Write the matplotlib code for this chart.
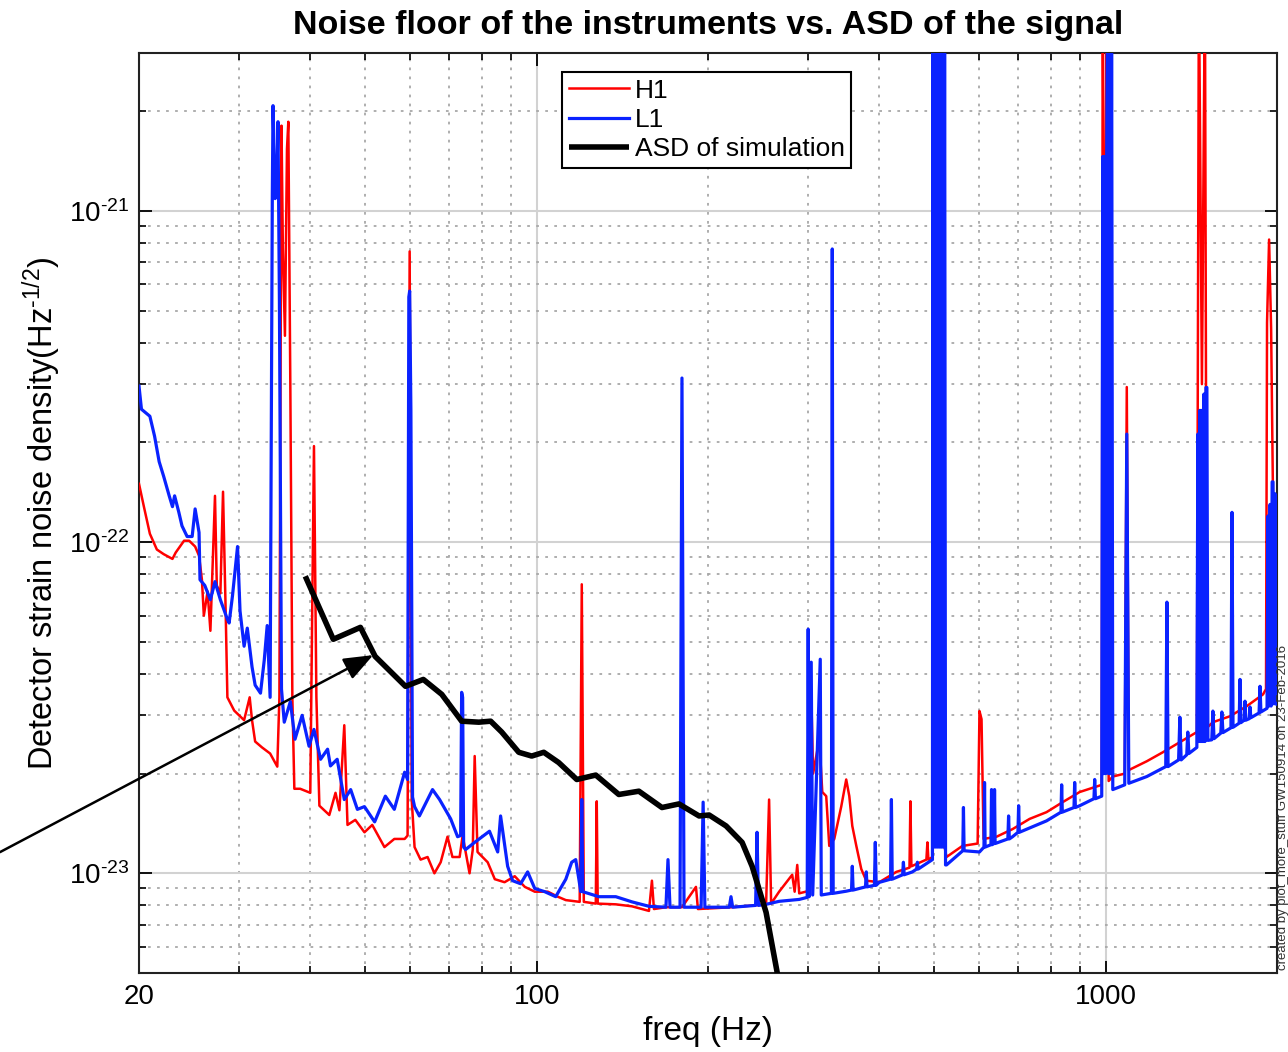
import matplotlib
matplotlib.use('Agg')
import matplotlib.pyplot as plt
from matplotlib.ticker import FixedLocator, NullFormatter, FixedFormatter
from matplotlib.patches import ConnectionPatch

# ---------------- data ----------------
h1_freq = [20.0, 20.4, 20.9, 21.5, 22.1, 22.9, 23.2, 24.0, 24.5, 25.1, 25.5, 25.8, 26.0, 26.4, 26.7,
           27.2, 27.4, 27.8, 28.1, 28.4, 28.6, 29.4, 30.6, 31.3, 31.6, 32.0, 32.9, 34.0, 35.0,
           35.3, 35.6, 35.8, 36.1, 36.4, 36.6, 36.9, 37.2, 37.5, 38.4, 40.0, 40.6, 41.0, 41.5,
           43.2, 44.3, 45.0, 45.9, 46.5, 48.0, 49.8, 51.4, 54.0, 56.2, 58.6, 59.3, 59.8, 60.3,
           61.0, 62.5, 64.3, 66.1, 67.8, 69.7, 71.1, 73.2, 74.1, 76.2, 77.2, 77.8, 78.7, 82.0,
           84.4, 87.8, 91.5, 95.3, 99.2, 104.6, 108.9, 112.5, 119.0, 120.0, 121.0, 127.0, 127.5,
           128.0, 137.7, 147.0, 157.5, 159.4, 160.7, 168.7, 180.0, 190.5, 192.0, 220.4, 253.0,
           256.1, 258.2, 266.7, 281.2, 284.0, 287.0, 289.3, 297.0, 302.0, 303.7, 306.0, 313.8,
           317.6, 322.7, 326.7, 333.4, 342.9, 349.9, 354.3, 358.6, 364.5, 371.9, 379.5, 400.0,
           428.6, 452.0, 453.7, 455.5, 466.7, 484.0, 486.0, 488.0, 496.0, 497.0, 505.0, 512.0,
           521.0, 525.0, 560.0, 595.5, 600.0, 605.0, 610.0, 643.0, 686.0, 735.0, 787.0, 840.0,
           900.0, 964.0, 984.0, 988.0, 996.0, 1004.0, 1012.0, 1029.0, 1080.0, 1089.0, 1098.0,
           1181.0, 1260.0, 1350.0, 1446.0, 1458.0, 1476.0, 1494.0, 1506.0, 1543.0, 1653.0,
           1771.0, 1890.0, 1913.0, 1921.0, 1937.0, 1953.0, 1968.0, 1984.0, 2000.0]
h1_asd = [1.50e-22, 1.28e-22, 1.06e-22, 9.5e-23, 9.2e-23, 8.9e-23, 9.3e-23, 1.01e-22, 1.01e-22, 9.7e-23,
          9.1e-23, 7.7e-23, 6.0e-23, 7.1e-23, 5.4e-23,
          1.38e-22, 7.4e-23, 7.0e-23, 1.42e-22, 6.2e-23, 3.4e-23, 3.1e-23, 2.9e-23, 3.4e-23, 2.9e-23,
          2.5e-23, 2.4e-23, 2.3e-23, 2.1e-23,
          3.4e-23, 1.81e-21, 7.7e-22, 4.2e-22, 1.54e-21, 1.86e-21, 2.9e-22, 3.4e-23, 1.8e-23, 1.8e-23,
          1.75e-23, 1.95e-22, 3.4e-23, 1.6e-23,
          1.5e-23, 1.75e-23, 1.55e-23, 2.8e-23, 1.4e-23, 1.45e-23, 1.33e-23, 1.4e-23, 1.2e-23, 1.27e-23,
          1.27e-23, 1.3e-23, 7.55e-22, 1.67e-23,
          1.2e-23, 1.1e-23, 1.12e-23, 1.0e-23, 1.08e-23, 1.29e-23, 1.12e-23, 1.12e-23, 1.3e-23, 1.0e-23,
          1.18e-23, 2.26e-23, 1.16e-23, 1.08e-23,
          9.6e-24, 9.4e-24, 9.8e-24, 9.1e-24, 8.8e-24, 8.8e-24, 8.5e-24, 8.3e-24, 8.2e-24, 7.46e-23,
          8.2e-24, 8.1e-24, 1.65e-23,
          8.1e-24, 8.06e-24, 7.95e-24, 7.7e-24, 9.5e-24, 7.8e-24, 7.9e-24, 7.9e-24, 9.1e-24, 7.8e-24,
          7.9e-24, 8.06e-24,
          1.67e-23, 8.1e-24, 8.8e-24, 9.9e-24, 8.8e-24, 1.06e-23, 8.7e-24, 8.8e-24, 8.9e-24, 3.5e-23,
          2.0e-23, 2.54e-23,
          1.76e-23, 1.71e-23, 1.21e-23, 1.27e-23, 1.59e-23, 1.92e-23, 1.71e-23, 1.39e-23, 1.21e-23,
          1.03e-23, 9.5e-24, 9.4e-24,
          1.01e-23, 1.04e-23, 1.65e-23, 1.05e-23, 1.07e-23, 1.1e-23, 1.24e-23, 1.1e-23, 1.12e-23, 5e-21,
          1e-22, 5e-21,
          1.2e-23, 1.12e-23, 1.21e-23, 1.23e-23, 3.09e-23, 2.92e-23, 1.27e-23, 1.29e-23, 1.36e-23,
          1.46e-23, 1.53e-23, 1.64e-23,
          1.76e-23, 1.83e-23, 1.85e-23, 5e-21, 2e-22, 5e-21, 1.9e-23, 1.96e-23, 2.0e-23, 2.94e-22,
          2.05e-23,
          2.18e-23, 2.32e-23, 2.49e-23, 2.67e-23, 5e-21, 3e-22, 5e-21, 2.75e-23, 2.86e-23, 2.98e-23,
          3.2e-23, 3.47e-23, 3.6e-23, 4.6e-22, 8.2e-22, 4.4e-22, 1.35e-22, 3.6e-23, 3.65e-23]

l1_freq = [20.0, 20.2, 20.9, 21.3, 21.7, 22.1, 22.6, 22.9, 23.1, 23.5, 23.8, 24.3, 24.8, 25.1, 25.5,
           25.6, 26.1, 26.7, 27.2, 27.8, 28.6, 28.8, 29.2, 29.8, 30.1, 30.6, 31.0, 31.6, 32.0,
           32.7, 33.2, 33.6, 34.0, 34.3, 34.4, 34.7, 35.0, 35.1, 35.3, 35.6, 36.0, 36.9, 37.6,
           38.7, 39.8, 40.6, 41.7, 42.9, 43.4, 44.6, 45.9, 47.1, 48.4, 49.8, 51.9, 54.2, 56.2,
           58.6, 59.3, 59.6, 59.8, 60.1, 60.5, 61.0, 62.2, 65.6, 67.5, 70.6, 72.6, 73.5, 73.8,
           74.1, 74.4, 75.0, 77.8, 82.6, 85.4, 86.4, 88.9, 90.7, 93.7, 96.4, 99.2, 103.3, 108.0,
           112.5, 115.2, 117.1, 118.6, 119.5, 120.0, 120.5, 128.6, 137.7, 147.0, 157.5, 168.7,
           170.1, 171.5, 178.6, 180.0, 181.5, 194.5, 196.1, 197.5, 218.0, 219.5, 221.0, 242.5,
           243.9, 245.3, 253.0, 266.7, 289.3, 298.8, 300.0, 301.2, 303.7, 305.5, 315.0, 316.3,
           329.5, 330.7, 331.9, 349.9, 357.5, 358.6, 359.8, 378.3, 379.5, 380.7, 392.2, 393.6,
           395.0, 400.0, 418.7, 420.1, 421.5, 439.6, 441.0, 442.4, 457.4, 465.2, 466.7, 468.2,
           496.0, 497.0, 499.0, 501.0, 503.0, 505.0, 507.0, 509.0, 511.0, 513.0, 515.0, 517.0,
           519.0, 521.0, 523.0, 525.0, 560.8, 562.3, 563.8, 600.0, 611.0, 612.4, 613.8, 628.5,
           630.0, 631.5, 636.2, 637.7, 639.2, 673.0, 675.0, 677.0, 686.0, 701.0, 703.0, 705.0,
           787.0, 834.5, 836.7, 838.9, 879.5, 882.0, 884.5, 900.0, 953.5, 956.4, 959.3, 984.0,
           988.0, 992.0, 996.0, 1000.0, 1004.0, 1008.0, 1012.0, 1016.0, 1020.0, 1024.0, 1029.0,
           1080.0, 1089.0, 1098.0, 1181.0, 1275.0, 1281.0, 1287.0, 1343.0, 1350.0, 1357.0,
           1388.0, 1394.0, 1400.0, 1446.0, 1452.0, 1458.0, 1464.0, 1470.0, 1476.0, 1482.0,
           1488.0, 1494.0, 1500.0, 1506.0, 1512.0, 1536.0, 1543.0, 1550.0, 1593.0, 1600.0,
           1607.0, 1660.0, 1667.0, 1674.0, 1716.0, 1722.0, 1728.0, 1751.0, 1757.0, 1763.0,
           1787.0, 1793.0, 1799.0, 1860.0, 1867.0, 1874.0, 1921.0, 1929.0, 1937.0, 1945.0,
           1953.0, 1961.0, 1968.0, 1976.0, 1984.0, 2000.0]
l1_asd = [2.96e-22, 2.52e-22, 2.40e-22, 2.09e-22, 1.75e-22, 1.58e-22, 1.38e-22, 1.28e-22, 1.38e-22,
          1.23e-22, 1.12e-22, 1.04e-22, 1.04e-22, 1.26e-22, 1.07e-22,
          7.7e-23, 7.4e-23, 6.7e-23, 7.6e-23, 6.7e-23, 5.85e-23, 5.7e-23, 6.9e-23, 9.7e-23, 6.2e-23,
          4.85e-23, 5.5e-23, 4.2e-23, 3.7e-23,
          3.5e-23, 4.4e-23, 5.6e-23, 3.4e-23, 1.09e-21, 2.08e-21, 1.09e-21, 1.44e-21, 1.86e-21, 5.4e-22,
          3.6e-23, 2.86e-23, 3.3e-23, 2.54e-23,
          3.0e-23, 2.42e-23, 2.72e-23, 2.21e-23, 2.37e-23, 2.11e-23, 2.21e-23, 1.67e-23, 1.79e-23,
          1.56e-23, 1.59e-23, 1.43e-23, 1.71e-23, 1.56e-23,
          2.02e-23, 1.92e-23, 5.5e-22, 5.73e-22, 2.5e-22, 1.7e-23, 1.59e-23, 1.49e-23, 1.79e-23,
          1.67e-23, 1.46e-23, 1.29e-23, 1.3e-23, 3.52e-23,
          3.4e-23, 1.2e-23, 1.18e-23, 1.24e-23, 1.34e-23, 1.16e-23, 1.49e-23, 1.05e-23, 9.5e-24,
          9.3e-24, 1.01e-23, 9.0e-24, 8.8e-24, 8.5e-24,
          9.6e-24, 1.08e-23, 1.10e-23, 9.6e-24, 8.8e-24, 1.67e-23, 8.8e-24, 8.5e-24, 8.5e-24, 8.2e-24,
          7.95e-24, 7.9e-24,
          1.10e-23, 7.9e-24, 7.9e-24, 3.13e-22, 7.9e-24, 7.9e-24, 1.64e-23, 7.9e-24, 7.9e-24, 8.5e-24,
          7.9e-24, 8.0e-24,
          1.33e-23, 8.0e-24, 8.06e-24, 8.23e-24, 8.34e-24, 8.46e-24, 5.46e-23, 8.5e-24, 4.34e-23,
          8.6e-24, 4.43e-23, 8.6e-24,
          8.7e-24, 7.68e-22, 8.7e-24, 8.83e-24, 8.9e-24, 1.05e-23, 8.9e-24, 9.1e-24, 1.01e-23, 9.1e-24,
          9.2e-24, 1.24e-23,
          9.2e-24, 9.39e-24, 9.6e-24, 1.67e-23, 9.6e-24, 9.9e-24, 1.08e-23, 9.9e-24, 1.01e-23,
          1.03e-23, 1.08e-23, 1.03e-23,
          1.10e-23, 5e-21, 1.2e-23, 5e-21, 1.2e-23, 5e-21, 1.2e-23, 5e-21, 1.2e-23, 5e-21, 1.2e-23,
          5e-21, 1.2e-23, 5e-21, 1.06e-23, 1.06e-23, 1.17e-23, 1.58e-23, 1.17e-23, 1.16e-23, 1.2e-23,
          1.88e-23, 1.2e-23, 1.22e-23,
          1.79e-23, 1.22e-23, 1.23e-23, 1.79e-23, 1.23e-23, 1.27e-23, 1.49e-23, 1.27e-23, 1.29e-23,
          1.33e-23, 1.60e-23, 1.33e-23,
          1.44e-23, 1.53e-23, 1.85e-23, 1.53e-23, 1.58e-23, 1.88e-23, 1.58e-23, 1.60e-23, 1.68e-23,
          1.92e-23, 1.68e-23, 1.71e-23,
          1.46e-21, 2e-23, 1.46e-21, 2e-23, 1.46e-21, 5e-21, 2e-23, 5e-21, 2e-23, 5e-21, 1.79e-23,
          1.85e-23, 2.12e-22, 1.87e-23, 1.96e-23, 2.1e-23, 6.59e-23, 2.1e-23, 2.2e-23, 2.96e-23, 2.2e-23,
          2.28e-23, 2.67e-23, 2.3e-23, 2.4e-23, 2.12e-22, 2.5e-23, 2.5e-22, 2.5e-23, 2.5e-22, 2.5e-23,
          2.8e-22, 2.5e-23, 2.93e-22, 2.93e-22, 2.52e-23, 2.53e-23, 3.09e-23, 2.55e-23, 2.65e-23, 3.07e-23,
          2.66e-23, 2.75e-23, 1.23e-22, 2.76e-23, 2.84e-23, 3.85e-23, 2.85e-23, 2.9e-23, 3.31e-23, 2.9e-23,
          2.93e-23, 3.18e-23, 2.95e-23, 3.05e-23, 3.67e-23, 3.07e-23, 3.15e-23, 1.2e-22, 3.2e-23, 1.3e-22,
          3.2e-23, 1.52e-22, 1.52e-22, 3.25e-23, 1.4e-22, 3.24e-23]

sim_freq = [39.2, 43.9, 49.0, 52.0, 58.8, 63.2, 68.1, 73.8, 79.1, 83.0, 86.8, 93.0, 98.0, 102.9,
            109.3, 117.6, 127.0, 139.4, 151.2, 166.0, 177.8, 192.9, 200.9, 215.2, 229.6, 239.1,
            253.0, 264.6, 268.0]
sim_asd = [7.89e-23, 5.09e-23, 5.53e-23, 4.52e-23, 3.67e-23, 3.85e-23, 3.47e-23, 2.88e-23, 2.86e-23,
           2.88e-23, 2.67e-23, 2.32e-23, 2.26e-23, 2.32e-23, 2.16e-23, 1.92e-23, 1.98e-23, 1.73e-23,
           1.77e-23, 1.58e-23, 1.62e-23, 1.49e-23, 1.50e-23, 1.39e-23, 1.24e-23, 1.05e-23, 7.62e-24,
           5.02e-24, 4.4e-24]

series_labels = ['H1', 'L1', 'ASD of simulation']
x_tick_values = [20, 100, 1000]
x_tick_labels = ['20', '100', '1000']
x_minor_values = [30, 40, 50, 60, 70, 80, 90, 200, 300, 400, 500, 600, 700, 800, 900]
y_tick_values = [1e-23, 1e-22, 1e-21]
y_tick_labels = [r'10$^{\text{-23}}$', r'10$^{\text{-22}}$', r'10$^{\text{-21}}$']
y_minor_values = [6e-24, 7e-24, 8e-24, 9e-24,
                  2e-23, 3e-23, 4e-23, 5e-23, 6e-23, 7e-23, 8e-23, 9e-23,
                  2e-22, 3e-22, 4e-22, 5e-22, 6e-22, 7e-22, 8e-22, 9e-22,
                  2e-21]
arrow_tip = (51.6, 4.56e-23)

title_text = 'Noise floor of the instruments vs. ASD of the signal'
xlabel_text = 'freq (Hz)'
ylabel_text = r'Detector strain noise density(Hz$^{\text{-1/2}}$)'
side_text = 'created by plot_more_stuff GW150914 on 23-Feb-2016'

# ---------------- style ----------------
plt.rcParams['font.family'] = ['Liberation Sans', 'DejaVu Sans']
plt.rcParams['mathtext.fontset'] = 'custom'
plt.rcParams['mathtext.rm'] = 'Liberation Sans'
plt.rcParams['mathtext.it'] = 'Liberation Sans:italic'
plt.rcParams['mathtext.bf'] = 'Liberation Sans:bold'
plt.rcParams['mathtext.default'] = 'regular'

fig = plt.figure(figsize=(12.88, 10.52), dpi=100)
ax = fig.add_axes([139 / 1288, 79 / 1052, 1138 / 1288, 920 / 1052])

ax.plot(h1_freq, h1_asd, color='#ff0000', lw=1.8, solid_joinstyle='round', label=series_labels[0], zorder=3)
ax.plot(l1_freq, l1_asd, color='#0a22ff', lw=2.3, solid_joinstyle='round', label=series_labels[1], zorder=4)
ax.plot(sim_freq, sim_asd, color='black', lw=4.0, solid_joinstyle='round', solid_capstyle='butt',
        label=series_labels[2], zorder=5)

ax.set_xscale('log')
ax.set_yscale('log')
ax.set_xlim(20, 2000)
ax.set_ylim(5e-24, 3e-21)

ax.xaxis.set_major_locator(FixedLocator(x_tick_values))
ax.xaxis.set_major_formatter(FixedFormatter(x_tick_labels))
ax.xaxis.set_minor_locator(FixedLocator(x_minor_values))
ax.xaxis.set_minor_formatter(NullFormatter())
ax.yaxis.set_major_locator(FixedLocator(y_tick_values))
ax.yaxis.set_major_formatter(FixedFormatter(y_tick_labels))
ax.yaxis.set_minor_locator(FixedLocator(y_minor_values))
ax.yaxis.set_minor_formatter(NullFormatter())

ax.tick_params(which='both', direction='in', top=True, right=True, colors='black')
ax.tick_params(which='major', length=9, width=1.3, labelsize=20)
ax.tick_params(axis='x', which='major', pad=8)
ax.tick_params(axis='y', which='major', pad=7)
ax.tick_params(which='minor', length=5, width=1.2)

ax.grid(which='major', color='#d2d2d2', lw=1.5, ls='-', zorder=0)
ax.grid(which='minor', color='#a8a8a8', lw=1.3, ls=(0, (1.5, 3.5)), zorder=0)
ax.set_axisbelow(True)
for sp in ax.spines.values():
    sp.set_linewidth(1.5)
    sp.set_color('#222222')

ax.set_title(title_text, fontsize=24.5, fontweight='bold', pad=14)
ax.set_xlabel(xlabel_text, fontsize=24, labelpad=4)
ax.set_ylabel(ylabel_text, fontsize=23.5, labelpad=4)

leg = ax.legend(loc='upper left', bbox_to_anchor=(0.3717, 0.9793), fontsize=19, frameon=True,
                fancybox=False, edgecolor='black', handlelength=2.3, handletextpad=0.2,
                borderpad=0.25, labelspacing=0.2, borderaxespad=0, framealpha=1)
leg.get_frame().set_linewidth(1.5)

arrow = ConnectionPatch(xyA=(0.0, 0.19), coordsA=fig.transFigure, xyB=arrow_tip, coordsB=ax.transData,
                        arrowstyle='-|>,head_length=0.9,head_width=0.35', color='black', lw=1.8,
                        shrinkA=0, shrinkB=0, mutation_scale=20, zorder=6, clip_on=False)
fig.add_artist(arrow)

fig.text(1283 / 1288, 82 / 1052, side_text, rotation=90, fontsize=9.5, ha='center', va='bottom',
         color='#333333')

fig.savefig('out.png', dpi=100)
